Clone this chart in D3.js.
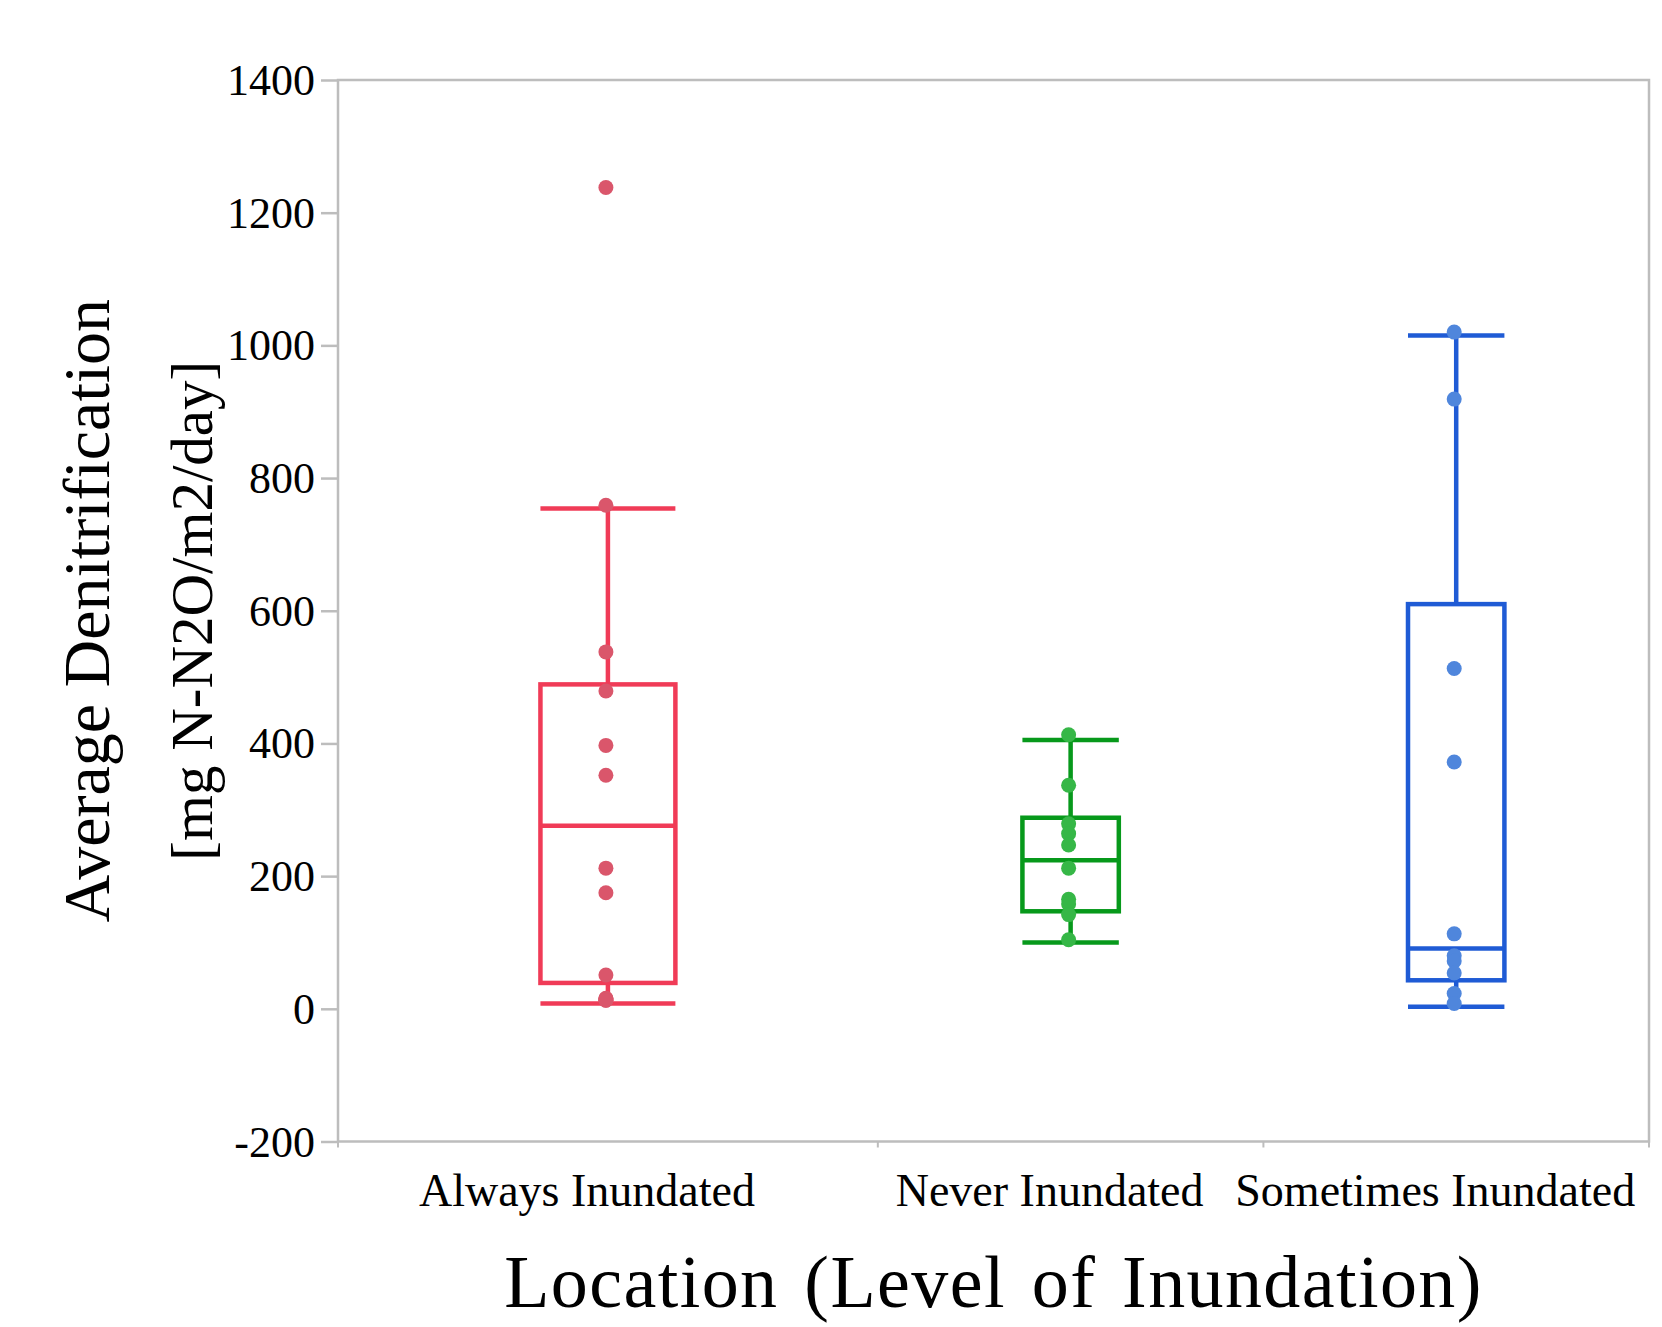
<!DOCTYPE html>
<html>
<head>
<meta charset="utf-8">
<script src="https://cdn.jsdelivr.net/npm/d3@7"></script>
<style>
  body { margin: 0; background: #fff; }
  text { font-family: "Liberation Serif", "DejaVu Serif", serif; fill: #000; }
</style>
</head>
<body>
<div id="boxplot"></div>
<script>
// --- Daten ---
const kategorien = ["Always Inundated", "Never Inundated", "Sometimes Inundated"];

// Einzelwerte je Standort (einige liegen übereinander nahe 0)
const werteAlways = [1238, 759, 538, 479, 397, 352, 212, 175, 51, 16, 15, 14, 13, 13];
const werteNever = [413, 337, 279, 264, 247, 212, 165, 158, 142, 104];
const werteSometimes = [1020, 919, 513, 372, 113, 80, 72, 54, 23, 8];

// Box-Kennwerte: unterer Whisker, Q1, Median, Q3, oberer Whisker
const whiskerUnten = [8, 100, 3];
const q1 = [39, 147, 43];
const median = [276, 224, 91];
const q3 = [489, 288, 610];
const whiskerOben = [754, 405, 1015];

const yTicks = [-200, 0, 200, 400, 600, 800, 1000, 1200, 1400];

const linienFarben = ["#F03B57", "#07991B", "#1F5BD5"];
const punktFarben = ["#DA566B", "#36B747", "#4F86DC"];

// --- Zeichenbereich ---
const svgWidth = 1662;
const svgHeight = 1327;
const margin = { top: 80, right: 13, bottom: 185.5, left: 338 };
const width = svgWidth - margin.left - margin.right;
const height = svgHeight - margin.top - margin.bottom;

const svg = d3.select("#boxplot")
  .append("svg")
  .attr("width", svgWidth)
  .attr("height", svgHeight);

const g = svg.append("g")
  .attr("transform", `translate(${margin.left},${margin.top})`);

// Gruppen zusammenbauen; Breite der Gruppe proportional zur Anzahl Werte (wie in JMP)
const gruppen = [werteAlways, werteNever, werteSometimes].map((werte, i) => ({
  name: kategorien[i],
  werte: werte,
  lo: whiskerUnten[i], q1: q1[i], med: median[i], q3: q3[i], hi: whiskerOben[i]
}));
let summe = 0;
gruppen.forEach(d => { d.start = summe; summe += d.werte.length; d.ende = summe; });

const x = d3.scaleLinear().domain([0, summe]).range([0, width]);
const y = d3.scaleLinear().domain([-200, 1400]).range([height, 0]);

// Rahmen
g.append("rect")
  .attr("width", width)
  .attr("height", height)
  .attr("fill", "none")
  .attr("stroke", "#BDBDBD")
  .attr("stroke-width", 2.5);

// Y-Achse (Bindestrich statt Minuszeichen wie im Original)
const yAxis = g.append("g")
  .call(d3.axisLeft(y).tickValues(yTicks).tickSize(17).tickPadding(6).tickFormat(d => String(d)));
yAxis.select(".domain").remove();
yAxis.selectAll("line").attr("stroke", "#BDBDBD").attr("stroke-width", 2.5);
yAxis.selectAll("text")
  .style("font-size", "44px")
  .style("font-family", "'Liberation Serif', serif")
  .attr("fill", "#000")
  .attr("dy", "0.33em");

// X-Achse: kleine Striche an den Gruppengrenzen
const grenzen = [0].concat(gruppen.map(d => d.ende));
g.selectAll(".xtick")
  .data(grenzen)
  .enter()
  .append("line")
  .attr("x1", d => x(d))
  .attr("x2", d => x(d))
  .attr("y1", height)
  .attr("y2", height + 6)
  .attr("stroke", "#BDBDBD")
  .attr("stroke-width", 2);

// Kategorienbeschriftung
g.selectAll(".xlabel")
  .data(gruppen)
  .enter()
  .append("text")
  .attr("x", d => x((d.start + d.ende) / 2) - 21)
  .attr("y", height + 64)
  .attr("text-anchor", "middle")
  .style("font-size", "46px")
  .text(d => d.name);

// Boxplots
gruppen.forEach((d, i) => {
  const cx = x((d.start + d.ende) / 2);
  const halb = (x(d.ende) - x(d.start)) * 0.125;
  const farbe = linienFarben[i];
  const box = g.append("g")
    .attr("fill", "none")
    .attr("stroke", farbe)
    .attr("stroke-width", 4.5);

  // Whisker (vertikal)
  box.append("line").attr("x1", cx).attr("x2", cx).attr("y1", y(d.q3)).attr("y2", y(d.hi));
  box.append("line").attr("x1", cx).attr("x2", cx).attr("y1", y(d.q1)).attr("y2", y(d.lo));
  // Whisker-Enden
  [d.lo, d.hi].forEach(v => {
    box.append("line").attr("x1", cx - halb).attr("x2", cx + halb).attr("y1", y(v)).attr("y2", y(v));
  });
  // Box und Median
  box.append("rect")
    .attr("x", cx - halb)
    .attr("y", y(d.q3))
    .attr("width", 2 * halb)
    .attr("height", y(d.q1) - y(d.q3));
  box.append("line").attr("x1", cx - halb).attr("x2", cx + halb).attr("y1", y(d.med)).attr("y2", y(d.med));

  // Datenpunkte (leicht links von der Mittellinie, wie im Original)
  g.append("g")
    .selectAll("circle")
    .data(d.werte)
    .enter()
    .append("circle")
    .attr("cx", cx - 2)
    .attr("cy", v => y(v))
    .attr("r", 7.5)
    .attr("fill", punktFarben[i]);
});

// Achsentitel
svg.append("text")
  .attr("transform", `translate(109,${margin.top + height / 2}) rotate(-90)`)
  .attr("text-anchor", "middle")
  .style("font-size", "66px")
  .text("Average Denitrification");

svg.append("text")
  .attr("transform", `translate(212,${margin.top + height / 2}) rotate(-90)`)
  .attr("text-anchor", "middle")
  .style("font-size", "59px")
  .text("[mg N-N2O/m2/day]");

svg.append("text")
  .attr("x", margin.left + width / 2)
  .attr("y", 1307)
  .attr("text-anchor", "middle")
  .style("font-size", "74px")
  .style("letter-spacing", "1.4px")
  .style("word-spacing", "6px")
  .text("Location (Level of Inundation)");
</script>
</body>
</html>
